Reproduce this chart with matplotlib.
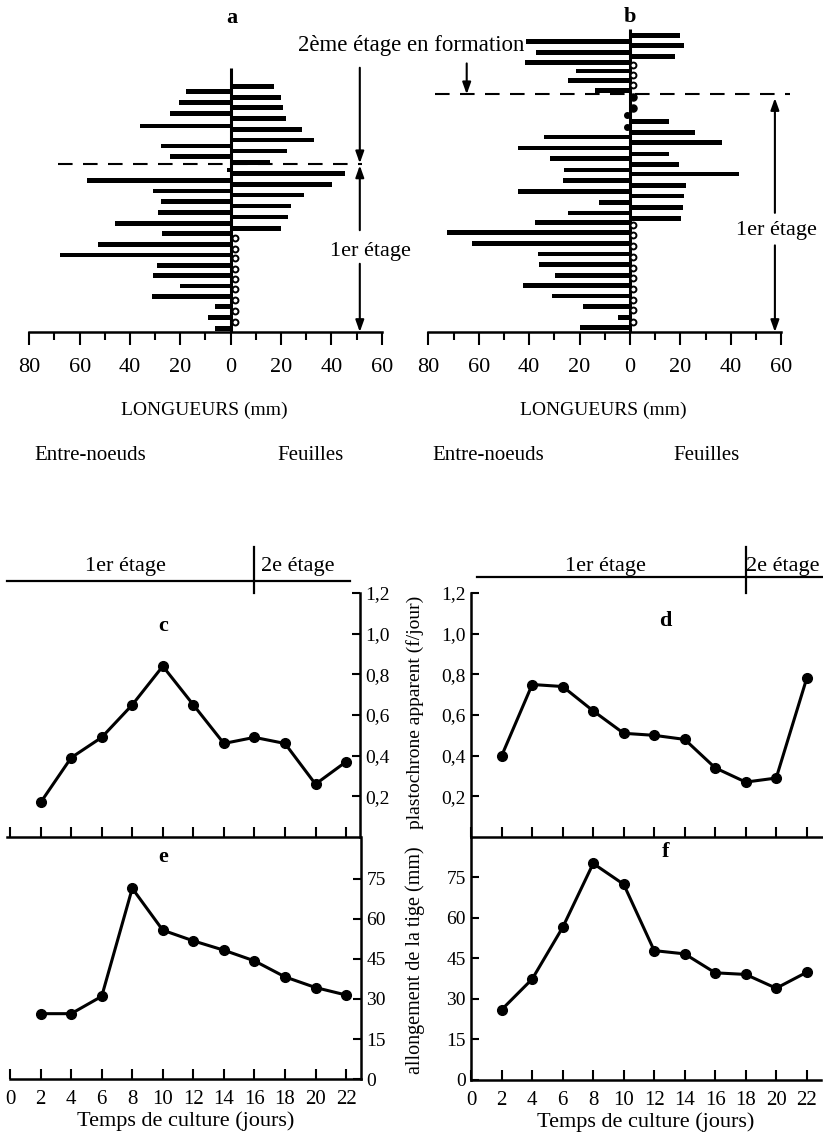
import matplotlib
matplotlib.use('Agg')
import matplotlib.pyplot as plt
from matplotlib.transforms import blended_transform_factory

plt.rcParams['font.family'] = ['Liberation Serif', 'DejaVu Serif']

# ---------------- data ----------------
# panel a : node rank (from base) and lengths (mm)
a_leaf_pos = [22.65, 21.67, 20.71, 19.70, 18.71, 17.73, 16.71, 15.67, 14.65, 13.64, 12.65, 11.63, 10.62, 9.57]
a_leaf_len = [17.2, 19.8, 20.6, 21.8, 28.3, 33.2, 22.5, 15.6, 45.6, 40.3, 29.1, 24.1, 22.9, 19.8]
a_inter_pos = [22.19, 21.20, 20.19, 19.02, 17.17, 16.19, 14.96, 13.97, 13.02, 12.03, 11.05, 10.04,
               9.11, 8.10, 7.11, 6.12, 5.23, 4.25, 3.26, 2.34, 1.32, 0.34]
a_inter_len = [17.7, 20.4, 24.1, 36.0, 27.8, 24.1, 1.5, 57.1, 30.7, 27.5, 28.7, 45.9,
               27.4, 52.9, 67.7, 29.1, 31.0, 20.1, 31.1, 6.2, 8.9, 6.2]
a_scar_pos = [8.65, 7.70, 6.80, 5.85, 4.90, 3.95, 3.00, 1.95, 0.95]
a_stage_limit = 15.48

# panel b
b_leaf_pos = [27.36, 26.44, 25.43, 19.42, 18.44, 17.48, 16.44, 15.48, 14.59, 13.54, 12.56, 11.51, 10.50]
b_leaf_len = [19.9, 21.5, 18.0, 15.6, 25.8, 36.7, 15.6, 19.6, 43.4, 22.3, 21.5, 20.9, 20.1]
b_inter_pos = [26.80, 25.80, 24.90, 24.10, 23.20, 22.30, 18.00, 17.00, 16.00, 14.96, 13.97, 12.95,
               11.97, 11.00, 10.10, 9.17, 8.19, 7.20, 6.25, 5.23, 4.28, 3.32, 2.34, 1.36, 0.40]
b_inter_len = [41.1, 37.4, 41.7, 21.5, 24.5, 13.9, 34.2, 44.4, 31.8, 26.1, 26.5, 44.4,
               12.5, 24.5, 37.7, 72.6, 62.5, 36.4, 36.0, 29.8, 42.4, 30.9, 18.8, 4.6, 19.9]
b_scar_pos = [24.65, 23.70, 22.80, 9.90, 8.95, 7.90, 6.95, 5.90, 4.95, 3.95, 2.95, 2.00, 0.95]
b_knot_right = [21.70, 20.65]
b_knot_left = [20.00, 18.95]
b_stage_limit = 21.95

# panels c-f : days of culture
days = [2, 4, 6, 8, 10, 12, 14, 16, 18, 20, 22]
c_plast = [0.17, 0.39, 0.49, 0.65, 0.84, 0.65, 0.46, 0.49, 0.46, 0.26, 0.37]
d_plast = [0.40, 0.75, 0.74, 0.62, 0.51, 0.50, 0.48, 0.34, 0.27, 0.29, 0.78]
e_allong = [24.5, 24.5, 31.0, 71.5, 55.8, 51.8, 48.3, 44.3, 38.3, 34.3, 31.5]
f_allong = [26.0, 37.3, 56.4, 80.0, 72.3, 47.8, 46.6, 39.6, 39.0, 33.9, 39.8]
c_stage_day = 16
d_stage_day = 18

length_ticks = [-80, -60, -40, -20, 0, 20, 40, 60]
length_minor = [-70, -50, -30, -10, 10, 30, 50]
length_labels = ['80', '60', '40', '20', '0', '20', '40', '60']
plast_ticks = [0.2, 0.4, 0.6, 0.8, 1.0, 1.2]
plast_labels = ['0,2', '0,4', '0,6', '0,8', '1,0', '1,2']
allong_ticks = [0, 15, 30, 45, 60, 75]
day_ticks = [0, 2, 4, 6, 8, 10, 12, 14, 16, 18, 20, 22]

# ---------------- layout ----------------
W, H = 823, 1140
fig = plt.figure(figsize=(W / 100, H / 100), dpi=100)
NODE = 10.83  # px per node rank
FS = 16


def px_axes(l, t, r, b):
    ax = fig.add_axes([l / W, 1 - b / H, (r - l) / W, (b - t) / H])
    ax.patch.set_visible(False)
    return ax


def ftext(x, y, s, **kw):
    kw.setdefault('ha', 'center')
    kw.setdefault('va', 'center')
    fig.text(x / W, 1 - y / H, s, **kw)


def arrow(ax, x, y0, y1):
    ax.annotate('', xy=(x, y1), xytext=(x, y0), annotation_clip=False,
                arrowprops=dict(arrowstyle='-|>,head_length=0.7,head_width=0.25',
                                lw=1.5, color='k', shrinkA=0, shrinkB=0))


def stem_panel(l, r, inter_pos, inter_len, leaf_pos, leaf_len, axis_top):
    ax = px_axes(l, 20, r, 332)
    ax.set_xlim(-80, 60)
    ax.set_ylim(0, (332 - 20) / NODE)
    ax.barh(inter_pos, [-v for v in inter_len], height=0.42, color='k')
    ax.barh(leaf_pos, leaf_len, height=0.42, color='k')
    ax.plot([0, 0], [0, axis_top], color='k', lw=2.2, solid_capstyle='butt')
    for s in ['top', 'left', 'right']:
        ax.spines[s].set_visible(False)
    ax.spines['bottom'].set_linewidth(1.8)
    ax.set_yticks([])
    ax.set_xticks(length_ticks)
    ax.set_xticklabels(length_labels)
    ax.set_xticks(length_minor, minor=True)
    ax.tick_params(axis='x', which='major', direction='out', length=9, width=1.5,
                   labelsize=FS, pad=10)
    ax.tick_params(axis='x', which='minor', direction='out', length=6, width=1.5)
    return ax


# ---- panel a ----
axA = stem_panel(29.3, 381.7, a_inter_pos, a_inter_len, a_leaf_pos, a_leaf_len, 24.35)
axA.scatter([1.6] * len(a_scar_pos), a_scar_pos, s=18, facecolors='white',
            edgecolors='k', linewidths=1.4, zorder=3, clip_on=False)
axA.plot([-68.5, 52.1], [a_stage_limit, a_stage_limit], color='k', lw=1.5,
         dashes=(7, 5), clip_on=False)
arrow(axA, 51.3, 24.4, a_stage_limit + 0.1)
arrow(axA, 51.3, 9.4, a_stage_limit - 0.1)
arrow(axA, 51.3, 6.3, 0.0)
axA.text(55.5, 7.4, '1er étage', ha='center', va='center', fontsize=FS, clip_on=False)

# ---- panel b ----
axB = stem_panel(428.4, 781.2, b_inter_pos, b_inter_len, b_leaf_pos, b_leaf_len, 28.0)
axB.scatter([1.3] * len(b_scar_pos), b_scar_pos, s=18, facecolors='white',
            edgecolors='k', linewidths=1.4, zorder=3, clip_on=False)
axB.scatter([1.3] * len(b_knot_right), b_knot_right, s=26, color='k', zorder=3)
axB.scatter([-1.0] * len(b_knot_left), b_knot_left, s=16, color='k', zorder=3)
axB.plot([-77.4, 63.5], [b_stage_limit, b_stage_limit], color='k', lw=1.5,
         dashes=(7, 5), clip_on=False)
arrow(axB, 57.5, 11.0, b_stage_limit - 0.35)
axB.text(58.2, 9.4, '1er étage', ha='center', va='center', fontsize=FS, clip_on=False)
arrow(axB, 57.5, 8.0, 0.0)
arrow(axB, -64.8, 24.8, b_stage_limit)

ftext(232, 18, 'a', fontsize=FS, fontweight='bold')
ftext(630, 17, 'b', fontsize=FS, fontweight='bold')
ftext(411, 45, '2ème étage en formation', fontsize=FS + 0.5)
for cx in (204, 603):
    ftext(cx, 410, 'LONGUEURS (mm)', fontsize=14)
for cx in (90, 488):
    ftext(cx, 455, 'Entre-noeuds', fontsize=15)
for cx in (310, 707):
    ftext(cx, 455, 'Feuilles', fontsize=15)


# ---------------- bottom panels ----------------
def line_panel(l, t, r, b, x0_px, px_day, ymax, x, y, side, yticks, ylabels, show_x):
    ax = px_axes(l, t, r, b)
    ax.set_xlim((l - x0_px) / px_day, (r - x0_px) / px_day)
    ax.set_ylim(0, ymax)
    ax.plot(x, y, color='k', lw=2.2, marker='o', ms=7, clip_on=False, zorder=3)
    ax.spines['top'].set_visible(False)
    other = 'left' if side == 'right' else 'right'
    ax.spines[other].set_visible(False)
    for s in ('bottom', side):
        ax.spines[s].set_linewidth(1.8)
    if side == 'right':
        ax.yaxis.tick_right()
    ax.set_yticks(yticks)
    ax.set_yticklabels(ylabels)
    ax.tick_params(axis='y', direction='in', length=6, width=1.5, labelsize=14, pad=4)
    ax.set_xticks(day_ticks)
    ax.tick_params(axis='x', direction='in', length=7, width=1.5, labelsize=15, pad=8,
                   labelbottom=show_x)
    return ax


PX_DAY_L, X0_L = 15.27, 10.1
PX_DAY_R, X0_R = 15.25, 471.2

axC = line_panel(7, 593, 360, 837, X0_L, PX_DAY_L, 1.2, days, c_plast, 'right',
                 plast_ticks, plast_labels, False)
axD = line_panel(471.2, 593, 821.7, 837, X0_R, PX_DAY_R, 1.2, days, d_plast, 'left',
                 plast_ticks, plast_labels, False)
axE = line_panel(10.1, 837, 361, 1079, X0_L, PX_DAY_L, 242 / 40 * 15, days, e_allong, 'right',
                 allong_ticks, [str(v) for v in allong_ticks], True)
axF = line_panel(471.2, 837, 821, 1080, X0_R, PX_DAY_R, 243 / 40.6 * 15, days, f_allong, 'left',
                 allong_ticks, [str(v) for v in allong_ticks], True)
for ax in (axE, axF):
    ax.set_xlabel('Temps de culture (jours)', fontsize=FS, labelpad=1.5)


def stage_bar(ax, x_start, x_end, stage_day, line_y, t1_x, t2_x):
    tr = blended_transform_factory(ax.transData, ax.transAxes)
    ax.plot([x_start, x_end], [line_y, line_y], color='k', lw=1.6, transform=tr, clip_on=False)
    ax.plot([stage_day, stage_day], [1.0, 1.19], color='k', lw=1.6, transform=tr, clip_on=False)
    ax.text(t1_x, 1.11, '1er étage', transform=tr, ha='center', va='center', fontsize=FS)
    ax.text(t2_x, 1.11, '2e étage', transform=tr, ha='center', va='center', fontsize=FS)


stage_bar(axC, -0.2, 22.26, c_stage_day, 1.050, 7.53, 18.86)
stage_bar(axD, 0.36, 23.0, d_stage_day, 1.064, 8.77, 20.43)

for ax, xd, ya, letter in ((axC, 10.0, 0.865, 'c'), (axD, 12.7, 0.886, 'd'),
                           (axE, 10.0, 0.919, 'e'), (axF, 12.77, 0.94, 'f')):
    ax.text(xd, ya, letter, transform=blended_transform_factory(ax.transData, ax.transAxes),
            ha='center', va='center', fontsize=FS, fontweight='bold')

ftext(415, 712, 'plastochrone apparent (f/jour)', fontsize=14, rotation=90)
ftext(415, 960, 'allongement de la tige (mm)', fontsize=14.5, rotation=90)

fig.savefig('out.png', dpi=100)
